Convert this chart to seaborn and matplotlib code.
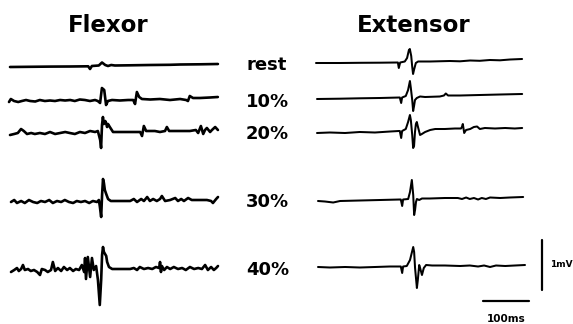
import matplotlib
matplotlib.use("Agg")
import matplotlib.pyplot as plt
import numpy as np
import pandas as pd
import seaborn as sns

# ---------------- data (time in ms from trace start, amplitude in µV) ----------------
levels = ["rest", "10%", "20%", "30%", "40%"]
muscles = ["Flexor", "Extensor"]

flex_rest_t = [0, 43, 87, 130, 170, 174, 178, 193, 200, 207, 213, 220, 228, 261, 304, 348, 370, 413, 452]
flex_rest_v = [0, 4, 8, 10, 14, -40, 20, 30, 90, 40, 20, 40, 30, 34, 40, 44, 50, 54, 60]

flex_10_t = [0, 4, 11, 20, 28, 37, 46, 57, 67, 78, 89, 100, 111, 122, 133, 143, 154, 165, 176, 187,
             193, 198, 202, 207, 211, 215, 224, 241, 259, 270, 274, 278, 283, 289, 307, 328, 350, 372,
             385, 389, 393, 400, 415, 437, 454]
flex_10_v = [-20, 40, 0, -20, 0, 20, 0, -10, 20, 0, 10, 0, 20, 10, 20, 0, 30, 20, 0, 20,
             0, -40, 260, 220, -80, 0, 20, 10, 20, 20, -60, 180, 80, 40, 30, 40, 20, 40,
             20, 0, 100, 60, 60, 70, 80]

flex_20_t = [0, 9, 17, 24, 30, 37, 46, 54, 65, 76, 87, 98, 109, 120, 130, 141, 152, 163, 174, 185,
             191, 196, 198, 200, 202, 204, 207, 209, 211, 213, 217, 224, 239, 261, 283, 287, 291, 296,
             315, 326, 337, 341, 346, 370, 391, 404, 409, 415, 420, 424, 428, 435, 439, 446, 452]
flex_20_v = [0, 20, 40, 120, 80, 20, 40, 20, 40, 20, 60, 20, 40, 60, 40, 20, 60, 40, 80, 60,
             80, -100, -260, 200, 360, 220, 280, 240, 160, 220, 160, 60, 60, 60, 60, -20, 180, 80,
             80, 60, 80, 160, 80, 80, 80, 100, 40, 180, 20, 100, 140, 60, 100, 160, 100]

flex_30_t = [0, 7, 13, 22, 30, 39, 48, 57, 65, 74, 83, 91, 100, 109, 117, 126, 135, 143, 152, 161,
             170, 178, 187, 191, 193, 196, 198, 200, 202, 204, 207, 211, 217, 237, 259, 267, 274, 283,
             289, 296, 302, 309, 317, 324, 328, 335, 346, 357, 363, 370, 376, 385, 393, 411, 426, 435,
             439, 446, 450]
flex_30_v = [0, 40, -20, 20, -20, 40, 0, -20, 20, 0, 40, -20, 20, 0, 40, 0, -20, 20, 0, 20,
             -20, 20, 0, 40, -80, -300, 140, 460, 380, 240, 160, 60, 20, 20, 20, 60, 0, 60,
             20, 100, 20, 60, 20, 60, 120, 20, 40, 80, 20, 60, 20, 80, 40, 40, 40, 20,
             -20, 60, 100]

flex_40_t = [0, 7, 13, 17, 22, 26, 30, 37, 43, 50, 57, 63, 67, 74, 80, 87, 91, 96, 102, 109,
             115, 122, 128, 135, 141, 148, 154, 159, 161, 163, 167, 172, 176, 180, 185, 189, 193, 196,
             198, 200, 202, 207, 209, 213, 220, 237, 259, 267, 274, 280, 289, 298, 307, 315, 322, 324,
             326, 328, 333, 339, 346, 354, 363, 372, 380, 389, 398, 407, 415, 422, 428, 435, 441, 446, 450]
flex_40_v = [0, 40, 80, 20, 60, 140, 40, 60, 20, 40, 0, -60, 60, 40, 0, 40, 200, 20, 80, 20,
             100, 40, 80, 20, 60, 40, 140, 0, 280, -140, 300, -100, 280, 40, 120, -160, -660, -160,
             340, 500, 400, 320, 200, 100, 60, 60, 60, 80, 40, 100, 60, 80, 60, 100, 80, 200,
             0, 120, 40, 100, 60, 100, 60, 80, 40, 100, 60, 80, 60, 140, 40, 100, 40, 80, 120]

ext_rest_t = [0, 52, 96, 139, 178, 180, 183, 193, 198, 202, 204, 207, 209, 211, 213, 217, 222, 248,
              291, 313, 335, 356, 378, 400, 422, 448]
ext_rest_v = [0, 0, 4, 6, 10, -100, 10, 30, 100, 260, 280, 140, -60, -220, -140, 0, 30, 30,
              40, 34, 50, 44, 60, 54, 70, 80]

ext_10_t = [0, 50, 93, 137, 180, 183, 185, 193, 198, 202, 204, 207, 209, 211, 213, 217, 224, 235,
            267, 276, 280, 285, 311, 354, 398, 446]
ext_10_v = [0, 6, 14, 20, 30, -80, 30, 60, 180, 360, 220, -20, -240, -140, -20, 20, 50, 40,
            50, 70, 110, 70, 70, 80, 90, 100]

ext_20_t = [0, 28, 61, 93, 126, 159, 178, 180, 183, 185, 193, 198, 202, 204, 207, 209, 211, 213,
            215, 217, 219, 224, 228, 235, 246, 257, 278, 300, 313, 315, 317, 320, 324, 333, 341,
            348, 354, 365, 387, 409, 430, 446]
ext_20_v = [0, 10, 0, 20, 10, 30, 40, 40, -100, 40, 80, 220, 360, 260, -40, -300, -260, 20,
            180, 220, 140, -40, -20, 20, 60, 80, 80, 90, 90, 120, 180, 0, 60, 80, 120,
            130, 80, 100, 90, 100, 90, 100]

ext_30_t = [0, 15, 33, 48, 91, 135, 178, 180, 183, 185, 196, 200, 204, 207, 209, 211, 213, 215,
            220, 226, 243, 276, 304, 313, 322, 330, 339, 348, 356, 365, 374, 396, 417, 446]
ext_30_v = [0, -10, -30, 0, 10, 20, 30, 30, -100, 30, 40, 180, 420, 120, -280, -180, -20, 40,
            20, 50, 50, 60, 60, 40, 70, 40, 60, 30, 60, 40, 70, 60, 70, 80]

ext_40_t = [0, 26, 59, 91, 124, 156, 180, 183, 185, 193, 200, 207, 209, 211, 215, 217, 220, 222,
            226, 230, 235, 248, 276, 309, 330, 348, 361, 374, 387, 407, 428, 450]
ext_40_v = [0, -10, 0, -10, 0, 10, 10, -120, 10, 20, 140, 400, 300, -20, -420, -260, 40, -20,
            -160, -20, 40, 30, 30, 20, 30, 10, 30, 0, 30, 20, 30, 40]

scale_time_ms = 100
scale_volt_uv = 1000
scale_time_label = "100ms"
scale_volt_label = "1mV"

traces = {
    "Flexor": [(flex_rest_t, flex_rest_v), (flex_10_t, flex_10_v), (flex_20_t, flex_20_v),
               (flex_30_t, flex_30_v), (flex_40_t, flex_40_v)],
    "Extensor": [(ext_rest_t, ext_rest_v), (ext_10_t, ext_10_v), (ext_20_t, ext_20_v),
                 (ext_30_t, ext_30_v), (ext_40_t, ext_40_v)],
}

# ---------------- layout (pixel positions on the 573x324 canvas) ----------------
W, H = 573, 324
MS_PER_PX = 100 / 46.0
UV_PER_PX = 20.0
start_px = {"Flexor": [10, 9, 10, 11, 11], "Extensor": [316, 317, 317, 318, 318]}
base_px = {"Flexor": [67, 101, 135, 202, 272], "Extensor": [63, 99, 133, 201, 267]}

rows = []
for m in muscles:
    for i, lev in enumerate(levels):
        t, v = traces[m][i]
        x0 = start_px[m][i] * MS_PER_PX
        y0 = (H - base_px[m][i]) * UV_PER_PX
        for tt, vv in zip(t, v):
            rows.append({"muscle": m, "level": lev, "trace": f"{m}-{lev}",
                         "x": x0 + tt, "y": y0 + vv})
df = pd.DataFrame(rows)

sns.set_style("white")
fig = plt.figure(figsize=(W / 100, H / 100), dpi=100)
ax = fig.add_axes([0, 0, 1, 1])

for m, lw in (("Flexor", 1.9), ("Extensor", 1.45)):
    sns.lineplot(data=df[df.muscle == m], x="x", y="y", units="trace", estimator=None,
                 sort=False, color="black", lw=lw, ax=ax, legend=False)

# scale bars
hb_x0 = 483 * MS_PER_PX
hb_y = (H - 301) * UV_PER_PX
sb = pd.DataFrame({"x": [hb_x0, hb_x0 + scale_time_ms], "y": [hb_y, hb_y]})
sns.lineplot(data=sb, x="x", y="y", sort=False, estimator=None, color="black", lw=1.6, ax=ax)
vb_x = 542 * MS_PER_PX
vb_y0 = (H - 290) * UV_PER_PX
vb = pd.DataFrame({"x": [vb_x, vb_x], "y": [vb_y0, vb_y0 + scale_volt_uv]})
sns.lineplot(data=vb, x="x", y="y", sort=False, estimator=None, color="black", lw=1.6, ax=ax)

ax.set_xlim(0, W * MS_PER_PX)
ax.set_ylim(0, H * UV_PER_PX)
ax.axis("off")

def fx(px):
    return px / W

def fy(py):
    return 1 - py / H

txt = dict(color="black", fontweight="bold")
fig.text(fx(108), fy(32), muscles[0], ha="center", va="baseline", fontsize=16.5, **txt)
fig.text(fx(414), fy(32), muscles[1], ha="center", va="baseline", fontsize=16.5, **txt)

label_baselines = [70, 107, 139, 207, 275]
for lev, yb in zip(levels, label_baselines):
    fig.text(fx(246), fy(yb), lev, ha="left", va="baseline", fontsize=13, **txt)

fig.text(fx(550), fy(267), scale_volt_label, ha="left", va="baseline", fontsize=6.5, **txt)
fig.text(fx(506), fy(322), scale_time_label, ha="center", va="baseline", fontsize=7.5, **txt)

fig.savefig("out.png", dpi=100)
